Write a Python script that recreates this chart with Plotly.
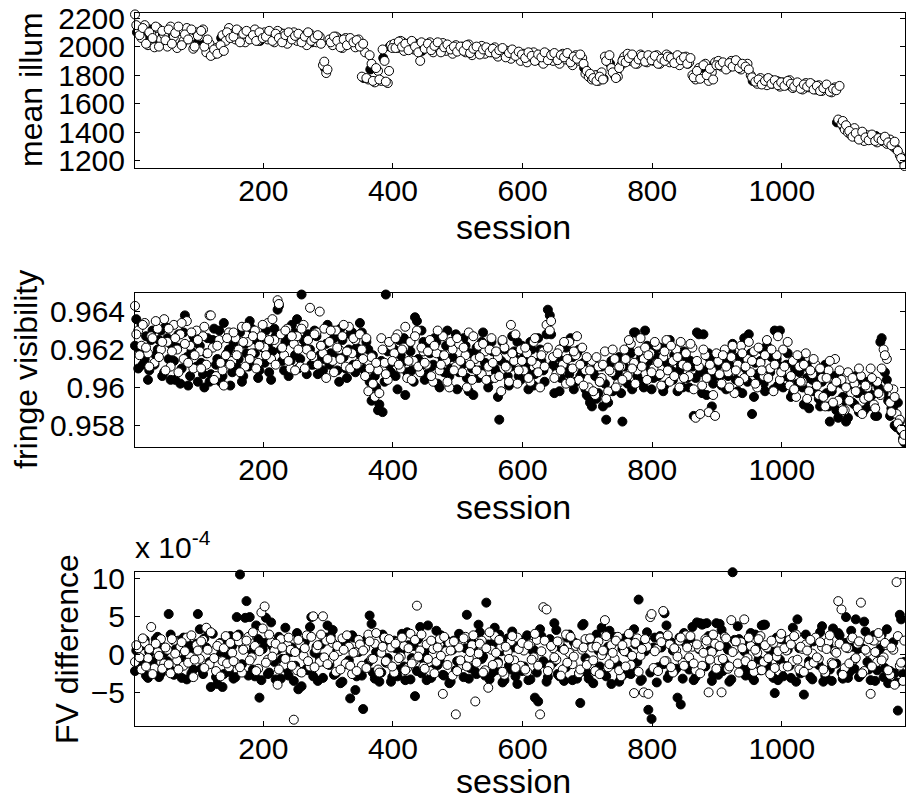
import plotly.graph_objects as go

# ---------------- data ----------------
# session numbers for the sampled points (two interleaved batches)
sessions_a = list(range(2, 1188, 5))
sessions_b = list(range(4, 1190, 5))
sessions_top_filled = list(range(5, 1186, 10))

# panel 1: mean illumination
illum_open_a = [
    2225, 2120, 2060, 2150, 2010, 2090, 1995, 2130, 2050, 2080,
    2000, 2140, 2070, 1990, 2110, 2040, 2130, 2060, 1985, 2100,
    2070, 2120, 1960, 2020, 1945, 1990, 1960, 2080, 2040, 2130,
    2090, 2050, 2110, 2070, 2030, 2100, 2060, 2120, 2040, 2080,
    2100, 2050, 2080, 2030, 2110, 2060, 2090, 2020, 2070, 2100,
    2040, 2080, 2060, 2010, 2090, 2050, 2030, 2070, 1870, 1815,
    2050, 2010, 2070, 2030, 1990, 2060, 2020, 2040, 1995, 2050,
    1790, 1960, 1770, 1880, 1750, 1830, 1760, 1900, 1745, 2010,
    2020, 1990, 2040, 1970, 2010, 2030, 1980, 2000, 1900, 2020,
    1990, 2030, 1960, 2010, 1980, 2025, 1970, 2000, 1950, 2010,
    1980, 2000, 1960, 2015, 1940, 1990, 1970, 2005, 1950, 1985,
    1960, 1995, 1930, 1980, 1950, 1970, 1915, 1960, 1940, 1900,
    1950, 1890, 1930, 1960, 1910, 1940, 1880, 1950, 1920, 1900,
    1935, 1880, 1950, 1910, 1930, 1870, 1940, 1900, 1920, 1810,
    1790, 1770, 1800, 1760, 1820, 1930, 1900, 1850, 1800, 1790,
    1870, 1930, 1950, 1900, 1930, 1880, 1945, 1910, 1890, 1930,
    1900, 1940, 1880, 1920, 1945, 1890, 1910, 1930, 1870, 1915,
    1930, 1890, 1800, 1770, 1850, 1790, 1880, 1760, 1820, 1890,
    1900, 1860, 1880, 1850, 1900, 1870, 1890, 1840, 1870, 1880,
    1800, 1770, 1740, 1780, 1750, 1730, 1770, 1745, 1760, 1720,
    1750, 1730, 1765, 1710, 1740, 1725, 1700, 1745, 1715, 1735,
    1700, 1730, 1690, 1720, 1700, 1680, 1715, 1490, 1460, 1420,
    1400, 1380, 1430, 1360, 1390, 1340, 1380, 1350, 1370, 1330,
    1360, 1340, 1320, 1350, 1300, 1280, 1240, 1200,
]
illum_open_b = [
    2150, 2080, 2130, 2020, 2100, 2060, 2140, 2000, 2110, 2045,
    2120, 2020, 2095, 2140, 2010, 2085, 2050, 2120, 2000, 2075,
    2110, 2000, 2050, 1935, 1980, 1950, 2010, 1970, 2100, 2060,
    2070, 2120, 2030, 2090, 2110, 2050, 2080, 2040, 2100, 2060,
    2070, 2110, 2040, 2090, 2060, 2030, 2080, 2100, 2050, 2075,
    2090, 2030, 2070, 2100, 2040, 2060, 2080, 2020, 1895, 1840,
    2030, 2070, 2040, 1995, 2050, 2010, 2060, 2030, 2045, 2000,
    2020, 1780, 1940, 1760, 1850, 1770, 1980, 1755, 1830, 1990,
    1990, 2035, 2000, 2020, 1975, 2040, 2000, 1960, 2030, 1985,
    2020, 1975, 2005, 2030, 1960, 1995, 2015, 1980, 2000, 1965,
    2000, 1970, 2010, 1955, 1985, 2000, 1945, 1980, 1995, 1960,
    1985, 1950, 1975, 1990, 1925, 1955, 1980, 1935, 1965, 1945,
    1920, 1960, 1935, 1900, 1945, 1925, 1960, 1905, 1940, 1955,
    1905, 1940, 1925, 1955, 1890, 1930, 1915, 1945, 1880, 1830,
    1810, 1780, 1760, 1790, 1770, 1900, 1940, 1820, 1780, 1850,
    1900, 1890, 1920, 1945, 1880, 1910, 1935, 1895, 1940, 1905,
    1935, 1880, 1915, 1900, 1930, 1920, 1885, 1940, 1905, 1925,
    1880, 1920, 1785, 1830, 1775, 1870, 1800, 1845, 1770, 1870,
    1870, 1890, 1840, 1885, 1860, 1905, 1850, 1880, 1860, 1840,
    1785, 1755, 1770, 1735, 1760, 1780, 1740, 1765, 1730, 1750,
    1725, 1760, 1740, 1720, 1750, 1705, 1735, 1720, 1745, 1700,
    1725, 1690, 1710, 1735, 1685, 1705, 1695, 1725, 1480, 1450,
    1410, 1370, 1395, 1350, 1405, 1365, 1345, 1385, 1340, 1360,
    1345, 1370, 1330, 1310, 1335, 1270, 1220, 1165,
]
illum_filled = [
    2100, 2060, 2120, 2030, 2080, 2050, 2110, 2020, 2090, 2060,
    2040, 1990, 1950, 2060, 2100, 2080, 2050, 2090, 2070, 2040,
    2080, 2060, 2100, 2040, 2070, 2050, 2080, 2030, 2060, 1850,
    2030, 2060, 2010, 2040, 2020, 1780, 1840, 1760, 1920, 2000,
    2010, 2030, 1990, 2020, 1970, 2000, 2010, 1980, 2000, 1975,
    1990, 1965, 1985, 1950, 1975, 1960, 1940, 1970, 1930, 1945,
    1925, 1940, 1905, 1935, 1920, 1910, 1930, 1895, 1925, 1850,
    1780, 1800, 1775, 1880, 1820, 1910, 1930, 1900, 1925, 1915,
    1920, 1900, 1935, 1910, 1925, 1880, 1780, 1810, 1840, 1870,
    1880, 1860, 1875, 1850, 1865, 1760, 1750, 1770, 1740, 1755,
    1740, 1720, 1735, 1710, 1725, 1700, 1715, 1690, 1470, 1440,
    1390, 1370, 1360, 1350, 1375, 1340, 1330, 1290, 1220,
]

# panel 2: fringe visibility
fv_open_a = [
    0.9643, 0.9630, 0.9622, 0.9634, 0.9618, 0.9627, 0.9613, 0.9631, 0.9620, 0.9636,
    0.9624, 0.9611, 0.9633, 0.9620, 0.9628, 0.9615, 0.9635, 0.9622, 0.9610, 0.9630,
    0.9619, 0.9627, 0.9612, 0.9638, 0.9621, 0.9606, 0.9625, 0.9609, 0.9617, 0.9629,
    0.9614, 0.9626, 0.9620, 0.9632, 0.9611, 0.9624, 0.9618, 0.9630, 0.9613, 0.9627,
    0.9621, 0.9634, 0.9615, 0.9625, 0.9646, 0.9628, 0.9617, 0.9631, 0.9610, 0.9623,
    0.9627, 0.9611, 0.9633, 0.9620, 0.9642, 0.9616, 0.9629, 0.9640, 0.9618, 0.9605,
    0.9624, 0.9614, 0.9630, 0.9620, 0.9627, 0.9611, 0.9632, 0.9618, 0.9625, 0.9613,
    0.9620, 0.9606, 0.9598, 0.9616, 0.9595, 0.9609, 0.9626, 0.9613, 0.9604, 0.9622,
    0.9618, 0.9628, 0.9610, 0.9621, 0.9605, 0.9624, 0.9614, 0.9630, 0.9608, 0.9619,
    0.9612, 0.9625, 0.9603, 0.9618, 0.9609, 0.9627, 0.9614, 0.9600, 0.9620, 0.9611,
    0.9623, 0.9608, 0.9617, 0.9629, 0.9604, 0.9615, 0.9622, 0.9607, 0.9619, 0.9611,
    0.9626, 0.9605, 0.9616, 0.9598, 0.9621, 0.9610, 0.9633, 0.9614, 0.9602, 0.9620,
    0.9609, 0.9618, 0.9603, 0.9624, 0.9612, 0.9600, 0.9619, 0.9633, 0.9630, 0.9616,
    0.9607, 0.9620, 0.9612, 0.9602, 0.9624, 0.9610, 0.9617, 0.9604, 0.9621, 0.9609,
    0.9600, 0.9614, 0.9596, 0.9611, 0.9605, 0.9619, 0.9598, 0.9608, 0.9615, 0.9602,
    0.9611, 0.9620, 0.9606, 0.9623, 0.9613, 0.9609, 0.9626, 0.9615, 0.9604, 0.9618,
    0.9610, 0.9622, 0.9607, 0.9616, 0.9625, 0.9603, 0.9614, 0.9620, 0.9600, 0.9612,
    0.9618, 0.9606, 0.9621, 0.9584, 0.9611, 0.9601, 0.9617, 0.9587, 0.9609, 0.9585,
    0.9614, 0.9602, 0.9620, 0.9608, 0.9616, 0.9597, 0.9612, 0.9622, 0.9605, 0.9615,
    0.9608, 0.9619, 0.9600, 0.9613, 0.9606, 0.9625, 0.9610, 0.9598, 0.9617, 0.9604,
    0.9620, 0.9609, 0.9601, 0.9614, 0.9595, 0.9611, 0.9603, 0.9618, 0.9598, 0.9607,
    0.9612, 0.9596, 0.9605, 0.9590, 0.9609, 0.9600, 0.9615, 0.9593, 0.9604, 0.9588,
    0.9608, 0.9597, 0.9602, 0.9589, 0.9606, 0.9594, 0.9600, 0.9610, 0.9591, 0.9603,
    0.9596, 0.9620, 0.9615, 0.9592, 0.9599, 0.9586, 0.9583, 0.9572,
]
fv_open_b = [
    0.9628, 0.9617, 0.9633, 0.9621, 0.9611, 0.9626, 0.9635, 0.9616, 0.9624, 0.9609,
    0.9631, 0.9619, 0.9626, 0.9608, 0.9634, 0.9623, 0.9613, 0.9629, 0.9617, 0.9625,
    0.9610, 0.9632, 0.9618, 0.9638, 0.9604, 0.9622, 0.9613, 0.9601, 0.9626, 0.9612,
    0.9629, 0.9617, 0.9608, 0.9624, 0.9632, 0.9615, 0.9627, 0.9610, 0.9622, 0.9633,
    0.9617, 0.9625, 0.9636, 0.9612, 0.9644, 0.9621, 0.9630, 0.9614, 0.9627, 0.9609,
    0.9620, 0.9631, 0.9610, 0.9625, 0.9617, 0.9628, 0.9612, 0.9622, 0.9631, 0.9615,
    0.9630, 0.9608, 0.9621, 0.9615, 0.9633, 0.9619, 0.9610, 0.9626, 0.9612, 0.9628,
    0.9615, 0.9626, 0.9610, 0.9602, 0.9613, 0.9597, 0.9620, 0.9607, 0.9624, 0.9614,
    0.9626, 0.9612, 0.9620, 0.9632, 0.9614, 0.9604, 0.9627, 0.9611, 0.9621, 0.9613,
    0.9619, 0.9606, 0.9622, 0.9630, 0.9612, 0.9617, 0.9603, 0.9624, 0.9609, 0.9626,
    0.9614, 0.9621, 0.9600, 0.9612, 0.9627, 0.9609, 0.9616, 0.9623, 0.9604, 0.9620,
    0.9613, 0.9619, 0.9606, 0.9625, 0.9611, 0.9603, 0.9618, 0.9628, 0.9609, 0.9614,
    0.9621, 0.9605, 0.9614, 0.9626, 0.9608, 0.9617, 0.9611, 0.9621, 0.9635, 0.9605,
    0.9618, 0.9609, 0.9624, 0.9615, 0.9603, 0.9619, 0.9627, 0.9612, 0.9601, 0.9616,
    0.9609, 0.9598, 0.9616, 0.9603, 0.9612, 0.9594, 0.9609, 0.9620, 0.9600, 0.9611,
    0.9604, 0.9615, 0.9625, 0.9610, 0.9602, 0.9619, 0.9611, 0.9621, 0.9617, 0.9608,
    0.9624, 0.9613, 0.9601, 0.9619, 0.9609, 0.9622, 0.9606, 0.9616, 0.9624, 0.9605,
    0.9611, 0.9623, 0.9599, 0.9614, 0.9586, 0.9620, 0.9605, 0.9612, 0.9596, 0.9618,
    0.9607, 0.9617, 0.9611, 0.9600, 0.9622, 0.9609, 0.9603, 0.9618, 0.9611, 0.9624,
    0.9614, 0.9602, 0.9621, 0.9609, 0.9617, 0.9605, 0.9620, 0.9612, 0.9627, 0.9608,
    0.9611, 0.9624, 0.9606, 0.9599, 0.9617, 0.9603, 0.9612, 0.9594, 0.9609, 0.9615,
    0.9601, 0.9610, 0.9595, 0.9605, 0.9614, 0.9592, 0.9603, 0.9609, 0.9588, 0.9600,
    0.9593, 0.9605, 0.9598, 0.9610, 0.9586, 0.9601, 0.9595, 0.9605, 0.9589, 0.9597,
    0.9610, 0.9617, 0.9600, 0.9587, 0.9595, 0.9581, 0.9578, 0.9575,
]
fv_filled_a = [
    0.9622, 0.9610, 0.9633, 0.9615, 0.9604, 0.9625, 0.9612, 0.9620, 0.9630, 0.9608,
    0.9626, 0.9604, 0.9614, 0.9621, 0.9602, 0.9629, 0.9616, 0.9606, 0.9627, 0.9611,
    0.9622, 0.9607, 0.9618, 0.9603, 0.9625, 0.9612, 0.9630, 0.9606, 0.9614, 0.9620,
    0.9608, 0.9627, 0.9615, 0.9603, 0.9623, 0.9611, 0.9631, 0.9618, 0.9605, 0.9626,
    0.9613, 0.9622, 0.9604, 0.9631, 0.9641, 0.9620, 0.9609, 0.9626, 0.9614, 0.9629,
    0.9636, 0.9615, 0.9625, 0.9607, 0.9620, 0.9612, 0.9627, 0.9617, 0.9609, 0.9623,
    0.9612, 0.9630, 0.9617, 0.9603, 0.9625, 0.9610, 0.9620, 0.9629, 0.9608, 0.9618,
    0.9629, 0.9609, 0.9620, 0.9593, 0.9606, 0.9588, 0.9614, 0.9603, 0.9619, 0.9608,
    0.9620, 0.9599, 0.9617, 0.9626, 0.9608, 0.9619, 0.9603, 0.9635, 0.9611, 0.9624,
    0.9607, 0.9618, 0.9612, 0.9624, 0.9600, 0.9614, 0.9622, 0.9606, 0.9616, 0.9628,
    0.9608, 0.9612, 0.9622, 0.9598, 0.9610, 0.9618, 0.9605, 0.9624, 0.9613, 0.9600,
    0.9624, 0.9610, 0.9595, 0.9614, 0.9620, 0.9606, 0.9611, 0.9619, 0.9624, 0.9604,
    0.9616, 0.9608, 0.9624, 0.9601, 0.9613, 0.9620, 0.9609, 0.9628, 0.9638, 0.9612,
    0.9610, 0.9598, 0.9614, 0.9621, 0.9607, 0.9616, 0.9603, 0.9620, 0.9608, 0.9599,
    0.9595, 0.9590, 0.9606, 0.9597, 0.9611, 0.9602, 0.9592, 0.9614, 0.9599, 0.9608,
    0.9597, 0.9611, 0.9602, 0.9618, 0.9629, 0.9606, 0.9615, 0.9600, 0.9622, 0.9610,
    0.9605, 0.9616, 0.9621, 0.9598, 0.9613, 0.9625, 0.9604, 0.9618, 0.9609, 0.9600,
    0.9616, 0.9600, 0.9611, 0.9605, 0.9628, 0.9597, 0.9609, 0.9618, 0.9590, 0.9606,
    0.9612, 0.9601, 0.9615, 0.9606, 0.9619, 0.9610, 0.9598, 0.9614, 0.9626, 0.9603,
    0.9618, 0.9595, 0.9607, 0.9614, 0.9602, 0.9622, 0.9608, 0.9599, 0.9615, 0.9630,
    0.9600, 0.9612, 0.9605, 0.9597, 0.9615, 0.9608, 0.9600, 0.9611, 0.9589, 0.9604,
    0.9608, 0.9594, 0.9603, 0.9612, 0.9590, 0.9598, 0.9606, 0.9584, 0.9602, 0.9593,
    0.9584, 0.9600, 0.9591, 0.9597, 0.9604, 0.9588, 0.9599, 0.9592, 0.9603, 0.9585,
    0.9624, 0.9597, 0.9604, 0.9585, 0.9590, 0.9579, 0.9582, 0.9573,
]
fv_filled_b = [
    0.9636, 0.9620, 0.9612, 0.9627, 0.9609, 0.9630, 0.9617, 0.9625, 0.9606, 0.9632,
    0.9615, 0.9622, 0.9604, 0.9628, 0.9610, 0.9638, 0.9601, 0.9619, 0.9624, 0.9603,
    0.9613, 0.9600, 0.9626, 0.9607, 0.9631, 0.9615, 0.9603, 0.9634, 0.9618, 0.9601,
    0.9623, 0.9611, 0.9629, 0.9606, 0.9618, 0.9635, 0.9612, 0.9625, 0.9609, 0.9621,
    0.9630, 0.9608, 0.9619, 0.9627, 0.9643, 0.9614, 0.9624, 0.9606, 0.9633, 0.9617,
    0.9610, 0.9649, 0.9621, 0.9628, 0.9612, 0.9630, 0.9607, 0.9622, 0.9615, 0.9633,
    0.9618, 0.9626, 0.9609, 0.9631, 0.9616, 0.9605, 0.9628, 0.9612, 0.9621, 0.9634,
    0.9610, 0.9624, 0.9603, 0.9617, 0.9600, 0.9591, 0.9587, 0.9649, 0.9612, 0.9620,
    0.9606, 0.9625, 0.9613, 0.9596, 0.9622, 0.9609, 0.9637, 0.9615, 0.9630, 0.9604,
    0.9621, 0.9611, 0.9626, 0.9602, 0.9617, 0.9608, 0.9630, 0.9610, 0.9623, 0.9599,
    0.9614, 0.9626, 0.9605, 0.9618, 0.9596, 0.9621, 0.9609, 0.9629, 0.9612, 0.9604,
    0.9619, 0.9608, 0.9583, 0.9624, 0.9612, 0.9601, 0.9627, 0.9615, 0.9606, 0.9622,
    0.9611, 0.9599, 0.9620, 0.9607, 0.9626, 0.9614, 0.9603, 0.9641, 0.9628, 0.9597,
    0.9616, 0.9605, 0.9622, 0.9610, 0.9626, 0.9599, 0.9618, 0.9606, 0.9613, 0.9596,
    0.9592, 0.9609, 0.9594, 0.9603, 0.9590, 0.9583, 0.9612, 0.9598, 0.9606, 0.9616,
    0.9582, 0.9605, 0.9620, 0.9599, 0.9629, 0.9611, 0.9603, 0.9630, 0.9614, 0.9599,
    0.9620, 0.9606, 0.9615, 0.9601, 0.9623, 0.9609, 0.9617, 0.9598, 0.9612, 0.9619,
    0.9605, 0.9614, 0.9585, 0.9629, 0.9608, 0.9628, 0.9596, 0.9615, 0.9602, 0.9611,
    0.9606, 0.9618, 0.9599, 0.9612, 0.9623, 0.9604, 0.9616, 0.9597, 0.9610, 0.9628,
    0.9586, 0.9613, 0.9603, 0.9620, 0.9598, 0.9609, 0.9616, 0.9630, 0.9601, 0.9611,
    0.9606, 0.9618, 0.9595, 0.9610, 0.9602, 0.9614, 0.9591, 0.9605, 0.9612, 0.9598,
    0.9603, 0.9590, 0.9609, 0.9597, 0.9582, 0.9601, 0.9588, 0.9605, 0.9595, 0.9582,
    0.9599, 0.9592, 0.9606, 0.9587, 0.9598, 0.9603, 0.9590, 0.9596, 0.9585, 0.9600,
    0.9626, 0.9608, 0.9593, 0.9589, 0.9580, 0.9592, 0.9577, 0.9571,
]

# panel 3: FV difference, in units of 1e-4
fv_diff_open_a = [
    -1.0, 0.8, -2.0, 1.5, -0.5, 3.6, -1.8, 0.3, 2.0, -1.2,
    0.6, -2.5, 1.8, -0.8, 1.0, -1.5, 2.2, -0.3, -3.0, 1.2,
    -0.6, 1.9, 3.5, -1.3, 0.4, -2.2, 1.4, -0.9, 2.4, -1.7,
    0.2, -1.1, 1.7, -2.4, 0.9, 2.3, -0.4, 1.1, -1.9, 5.5,
    6.3, -0.7, 1.6, 0.5, -4.0, 2.0, -1.4, 1.2, 0.6, -8.6,
    -2.1, 1.3, -0.2, 2.5, -1.6, 5.0, 0.7, -1.0, 5.0, 1.8,
    -0.8, 1.5, -2.3, 0.4, 2.1, -1.2, 1.0, -2.6, 0.3, 1.9,
    -1.5, 0.8, 2.6, -0.6, 1.4, -2.0, 0.2, 2.2, -1.1, 0.9,
    -2.4, 1.6, -0.3, 1.1, -1.8, 2.7, -0.9, 6.4, 0.5, -1.6,
    1.3, -2.2, 0.7, -1.0, 2.0, -5.2, 0.4, 1.5, -2.8, -7.9,
    0.9, -1.4, 2.3, -0.5, 1.2, -6.2, 0.1, 1.8, -2.1, -4.4,
    0.6, 2.4, -1.2, 1.0, -2.7, 0.3, 1.7, -0.8, 2.2, -1.5,
    0.5, -2.3, 1.4, -0.4, 1.9, -7.9, 6.2, 5.9, -1.6, 0.8,
    -0.7, 1.6, -2.0, 2.6, 0.2, -1.3, 1.1, -2.5, 0.6, 2.0,
    -1.0, 0.9, -2.2, 1.7, -0.1, 4.5, -1.7, 1.2, -0.6, 2.3,
    -2.9, 0.4, 1.5, -1.4, -5.1, 2.1, -0.2, -5.0, 1.0, 4.9,
    -1.8, 0.7, 2.2, 5.7, -0.9, 1.3, -2.4, 0.5, 1.8, -1.1,
    2.5, -0.4, 1.0, -2.1, 0.8, -1.5, 2.0, -5.0, 0.3, 1.4,
    -0.8, -5.0, 2.3, -1.9, 4.5, 0.6, -1.2, 1.6, 4.6, -0.5,
    1.1, -2.3, 0.2, 2.4, -1.0, 0.9, -2.6, 1.5, -0.3, 2.1,
    -1.7, 0.5, 1.9, -0.9, 2.6, -2.0, 0.7, 1.3, -1.4, 0.1,
    2.2, -0.6, 1.0, -2.4, 1.7, -1.1, 0.4, 7.0, 5.9, -1.8,
    0.8, 2.0, -0.7, 1.4, 6.8, -2.2, 0.3, -5.2, 1.8, -1.0,
    2.3, -0.4, 1.2, -2.7, 0.6, 9.5, -1.5, -3.5,
]
fv_diff_open_b = [
    1.2, -0.4, 2.1, -1.6, 0.7, -2.6, 1.4, -0.2, -1.9, 0.9,
    -1.3, 2.0, 0.1, -2.0, 1.6, 0.4, -1.1, 2.5, -0.7, 0.5,
    1.7, -1.8, 0.6, 2.9, -0.5, 1.1, -2.9, 0.8, -1.2, 1.5,
    -0.9, 2.4, -1.7, 0.6, 1.8, -0.8, 2.9, -2.2, 0.4, 3.4,
    -1.1, 2.6, -0.3, 1.4, -2.0, 0.9, -0.6, 2.2, -1.5, 0.3,
    1.9, -2.4, 0.8, -0.9, 2.3, -1.7, 1.2, 2.6, -0.4, -1.3,
    2.0, -0.2, 1.1, -2.0, 0.6, 2.5, -1.5, 0.2, -2.2, 1.3,
    0.5, -1.8, 1.7, -0.6, 2.8, -2.4, 1.0, -0.9, 2.0, -1.6,
    1.4, -0.5, 2.2, -2.1, 0.8, -1.2, 1.9, -0.3, 2.6, -1.9,
    -0.6, 1.8, -2.5, 0.9, -0.2, 2.3, -1.4, 0.5, 1.7, -2.2,
    -0.8, 2.1, -1.6, 0.3, 2.5, -1.1, 1.4, -2.4, 0.8, 2.9,
    -1.4, 0.2, 1.9, -2.3, 1.0, -0.6, 2.4, -1.8, 0.7, 1.5,
    -2.0, 1.2, -0.7, 2.7, -1.5, 0.4, 1.8, -2.2, 1.1, -0.4,
    1.7, -2.8, 0.6, -1.1, 2.3, -0.3, 1.4, -2.0, 0.9, -1.4,
    2.1, -0.8, 1.0, -2.6, 0.5, 2.4, -1.3, 0.2, 1.8, -2.1,
    1.2, -1.6, 2.7, -0.2, 1.5, -2.3, 0.7, 2.0, -5.2, 5.3,
    0.4, -2.2, 1.6, -0.9, 2.5, -1.7, 0.8, -0.3, 2.2, -1.5,
    0.9, 2.4, -1.2, 1.3, -2.5, 0.2, 1.8, -0.7, 2.6, -1.9,
    1.1, -0.6, 2.1, -1.6, 0.3, 1.7, -2.4, 0.8, -0.9, 2.2,
    -1.4, 0.6, 2.0, -2.1, 1.2, -0.5, 1.8, -1.8, 0.4, 2.7,
    0.8, -1.6, 1.3, 2.4, -0.7, 1.0, -2.3, 0.5, 1.9, -1.1,
    -0.4, 1.6, -2.0, 0.7, 2.5, -1.3, 0.2, 1.4, -2.7, 0.9,
    -1.2, 2.2, -0.5, 1.7, -2.5, 0.6, 2.0, -1.6, 0.3, 2.8,
    -0.8, 1.5, -2.1, 0.9, -4.0, 2.4, -1.1, 1.8,
]
fv_diff_filled_a = [
    -2.2, 1.0, -0.6, 1.9, -3.1, 0.4, -1.7, 2.3, -2.5, 0.2,
    -0.9, 2.6, -2.7, 0.8, -1.5, 2.2, -3.3, 0.6, -2.0, 1.4,
    3.3, -2.6, 0.9, -1.0, 2.7, -3.0, 0.3, -4.3, 1.6, -2.3,
    1.1, -3.0, 2.6, -1.3, 4.8, -2.8, 0.5, -2.9, 2.0, -3.4,
    1.5, -2.6, 4.2, -1.0, 0.6, -3.2, 1.9, -2.0, 0.3, -3.5,
    2.8, -2.3, 0.7, -1.9, 3.6, -2.9, 1.0, -0.4, -3.1, 2.2,
    -1.4, 3.2, -2.5, 0.9, -3.6, 1.8, -0.8, 2.5, -4.7, 0.3,
    -2.8, 1.4, -1.1, 4.0, -3.2, 0.7, -2.4, 2.1, -0.5, -3.6,
    1.8, -2.9, 0.4, -1.6, 2.9, -3.3, 1.1, -2.2, 3.6, -0.7,
    -3.4, 1.5, -2.0, 3.1, -0.8, -2.7, 1.9, -3.8, 0.6, -2.1,
    2.7, -1.2, 0.8, -3.2, 1.6, -2.3, 3.9, -0.6, -2.8, 1.3,
    -2.5, 3.5, -1.0, 0.4, -3.4, 2.1, -2.0, 0.9, -3.9, 1.7,
    -1.6, 2.5, -3.3, 0.6, -2.4, 3.3, -0.9, -3.6, 2.0, -1.1,
    3.2, -2.9, 0.8, -1.7, 2.6, -3.4, 1.2, -2.5, 3.8, -0.5,
    -3.2, 1.7, -2.2, 0.5, 3.5, -2.7, 1.0, -3.9, 2.3, -1.4,
    -3.0, 2.1, 0.3, -2.6, 3.3, -1.0, -3.5, 1.6, 2.9, -2.4,
    0.9, -3.7, 2.4, -1.3, 3.8, -2.6, 0.5, -1.9, 2.2, -3.2,
    1.4, -2.0, 3.6, -3.0, 0.7, 3.9, -1.6, 2.4, -3.5, 0.9,
    -2.7, 3.2, -1.1, 0.6, -3.3, 1.9, 3.7, -2.3, 0.4, -1.8,
    2.8, -3.4, 1.0, -2.1, 3.9, -1.2, 0.5, -3.1, 2.2, -0.7,
    -2.9, 1.8, -1.5, 3.5, -3.6, 0.8, -2.2, 2.6, -0.9, -3.3,
    2.0, -1.4, 3.7, -2.8, 1.1, -3.5, 0.4, 2.8, -2.4, 1.5,
    -3.1, 3.1, -1.9, 0.7, -2.7, 4.3, -1.0, -3.4, 2.5, -2.1,
    0.8, -3.0, 3.3, -2.2, 1.6, -3.7, 5.2, -2.6,
]
fv_diff_filled_b = [
    0.5, -1.6, 1.2, -2.8, 0.3, -0.9, 2.0, -3.0, 1.0, -1.4,
    5.3, -2.2, 0.6, 1.8, -3.1, -0.4, 1.3, -2.5, 0.8, 5.3,
    -1.9, 2.1, 3.2, -4.3, 0.4, -3.9, 1.5, -2.6, -0.2, 2.4,
    -3.2, 4.9, 10.5, 1.0, 7.0, 4.9, -2.0, 3.8, -5.7, 0.7,
    4.8, -2.4, 1.1, -3.3, 2.3, -0.6, 3.5, -2.8, 0.9, -1.5,
    -4.6, -4.2, 1.6, -2.1, 4.9, 0.2, -3.5, 1.3, -1.0, 3.8,
    2.4, -2.7, 0.5, -3.8, 1.7, -1.3, -5.8, 2.2, -2.9, 0.6,
    -7.2, 1.9, 5.1, -2.4, 0.3, -3.6, 2.6, -1.1, 1.4, -3.0,
    0.8, -2.0, 2.7, -3.4, 1.2, -0.5, -5.5, 2.0, -2.5, 0.4,
    3.8, -3.1, 1.6, -1.4, 2.5, -2.8, 0.9, -3.6, 1.8, -0.9,
    2.3, -3.0, 5.2, -1.8, 1.0, -2.6, 2.9, -0.3, 6.8, -3.3,
    1.4, -2.1, 2.6, -3.7, 0.5, -1.5, 3.0, -2.9, 0.8, -2.2,
    1.9, -3.4, 0.6, -5.7, -6.2, 2.4, -1.2, -3.0, 1.2, 4.1,
    -2.6, 0.9, -3.5, 2.2, -1.0, 1.6, -3.2, -6.4, 4.0, -2.4,
    1.5, -3.8, 2.6, -1.6, 0.2, -2.9, 3.1, -1.3, 1.8, -3.6,
    0.7, -2.5, 2.4, -1.9, 1.3, 7.2, -3.3, 0.4, -7.3, -8.5,
    2.2, -1.7, 0.9, 5.4, -3.1, 1.6, -2.2, -5.7, -6.6, 2.8,
    -0.8, 1.9, -3.4, 4.2, 4.1, 4.0, 4.1, 0.5, -2.7, 4.1,
    4.0, -2.2, 1.0, -3.6, 10.8, -9.6, 2.0, -1.4, -2.8, 1.2,
    -3.0, 2.6, -0.7, 3.8, 3.9, -1.9, 1.4, -5.1, -3.4, 2.0,
    -1.5, 0.6, -3.1, 2.4, 4.6, -2.5, -5.3, 1.1, -3.0, 1.7,
    -0.6, 2.9, -3.6, 1.3, -2.0, 3.4, -1.2, 2.5, -3.2, 4.9,
    -2.4, 1.0, 4.6, -3.0, 0.8, 3.0, -2.0, 1.9, -3.5, 0.3,
    2.6, -1.8, -3.8, 1.2, -2.5, -7.4, 4.6, -1.0,
]

# tick labels
x_ticks = [200, 400, 600, 800, 1000]
illum_ticks = [1200, 1400, 1600, 1800, 2000, 2200]
fv_ticks = [0.958, 0.960, 0.962, 0.964]
fv_tick_text = ["0.958", "0.96", "0.962", "0.964"]
diff_ticks = [-5, 0, 5, 10]
diff_exponent_text = "x 10<sup>-4</sup>"

# ---------------- figure ----------------
FONT = "Liberation Sans, Arial, Helvetica, sans-serif"
W, H = 906, 800
ML, MR, MT, MB = 135, 1, 13, 74
PW, PH = W - ML - MR, H - MT - MB


def ydom(top_px, bottom_px):
    return [(H - MB - bottom_px) / PH, (H - MB - top_px) / PH]


def px_x(px):
    return (px - ML) / PW


def px_y(py):
    return (H - MB - py) / PH


fig = go.Figure()

MS = 9
filled_marker = dict(symbol="circle", size=MS, color="black",
                     line=dict(color="black", width=1))
open_marker = dict(symbol="circle", size=MS, color="white",
                   line=dict(color="black", width=1))

panels = [
    ("x", "y",
     [(sessions_top_filled, illum_filled)],
     [(sessions_a, illum_open_a), (sessions_b, illum_open_b)]),
    ("x2", "y2",
     [(sessions_a, fv_filled_a), (sessions_b, fv_filled_b)],
     [(sessions_a, fv_open_a), (sessions_b, fv_open_b)]),
    ("x3", "y3",
     [(sessions_a, fv_diff_filled_a), (sessions_b, fv_diff_filled_b)],
     [(sessions_a, fv_diff_open_a), (sessions_b, fv_diff_open_b)]),
]
for xa, ya, filled_sets, open_sets in panels:
    for xs, ys in filled_sets:
        fig.add_trace(go.Scatter(x=xs, y=ys, mode="markers", marker=filled_marker,
                                 xaxis=xa, yaxis=ya, cliponaxis=False,
                                 showlegend=False, hoverinfo="skip"))
    for xs, ys in open_sets:
        fig.add_trace(go.Scatter(x=xs, y=ys, mode="markers", marker=open_marker,
                                 xaxis=xa, yaxis=ya, cliponaxis=False,
                                 showlegend=False, hoverinfo="skip"))

axis_common = dict(
    showline=True, linecolor="black", linewidth=1, mirror="ticks",
    ticks="inside", ticklen=5, tickwidth=1, tickcolor="black",
    showgrid=False, zeroline=False,
    tickfont=dict(family=FONT, size=30, color="black"),
)

xcommon = dict(axis_common, range=[2, 1190], tickvals=x_ticks,
               ticklabelstandoff=-4)
ycommon = dict(axis_common, ticklabelstandoff=3)

fig.update_layout(
    width=W, height=H,
    margin=dict(l=ML, r=MR, t=MT, b=MB, pad=0),
    paper_bgcolor="white", plot_bgcolor="white",
    font=dict(family=FONT, color="black"),
    xaxis=dict(xcommon, domain=[0, 1], anchor="y"),
    xaxis2=dict(xcommon, domain=[0, 1], anchor="y2"),
    xaxis3=dict(xcommon, domain=[0, 1], anchor="y3"),
    yaxis=dict(ycommon, domain=ydom(13, 168), anchor="x",
               range=[1151, 2235], tickvals=illum_ticks),
    yaxis2=dict(ycommon, domain=ydom(293, 447), anchor="x2",
                range=[0.95686, 0.96498], tickvals=fv_ticks,
                ticktext=fv_tick_text),
    yaxis3=dict(ycommon, domain=ydom(572, 726), anchor="x3",
                range=[-9.43, 10.83], tickvals=diff_ticks),
)

vlabel_font = dict(family=FONT, size=32, color="black")
hlabel_font = dict(family=FONT, size=34, color="black")
annotations = [
    dict(text="mean illum", x=px_x(31), y=px_y(90), textangle=-90, font=vlabel_font),
    dict(text="fringe visibility", x=px_x(26), y=px_y(370), textangle=-90, font=vlabel_font),
    dict(text="FV difference", x=px_x(67), y=px_y(649), textangle=-90, font=vlabel_font),
    dict(text="session", x=px_x(513), y=px_y(227), font=hlabel_font),
    dict(text="session", x=px_x(513), y=px_y(507), font=hlabel_font),
    dict(text="session", x=px_x(513), y=px_y(781), font=hlabel_font),
]
for a in annotations:
    fig.add_annotation(xref="paper", yref="paper", showarrow=False,
                       xanchor="center", yanchor="middle", **a)

fig.add_annotation(xref="paper", yref="paper", showarrow=False,
                   text=diff_exponent_text, x=px_x(133), y=px_y(566),
                   xanchor="left", yanchor="bottom",
                   font=dict(family=FONT, size=30, color="black"))

fig.write_html(
    "out.html",
    config={"displayModeBar": False, "staticPlot": True},
    post_script="document.body.style.margin='0';"
                "document.body.style.overflow='hidden';",
)
